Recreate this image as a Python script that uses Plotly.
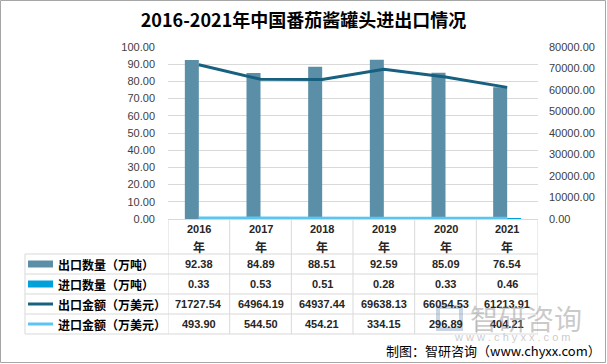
import plotly.graph_objects as go

years = ["2016", "2017", "2018", "2019", "2020", "2021"]
export_qty = [92.38, 84.89, 88.51, 92.59, 85.09, 76.54]
import_qty = [0.33, 0.53, 0.51, 0.28, 0.33, 0.46]
export_amt = [71727.54, 64964.19, 64937.44, 69638.13, 66054.53, 61213.91]
import_amt = [493.90, 544.50, 454.21, 334.15, 296.89, 404.21]

series_names = ["出口数量（万吨）", "进口数量（万吨）", "出口金额（万美元）", "进口金额（万美元）"]
series_values = [export_qty, import_qty, export_amt, import_amt]
series_colors = ["#5B8FA7", "#00A0DA", "#17607F", "#5BC5F2"]
series_kinds = ["bar", "bar", "line", "line"]

W, H = 607, 364
L, R, T, B = 168, 538, 47, 219
CJK = "Noto Sans CJK SC"
NUM = "Liberation Sans"


def ppy(py):
    return (B - py) / (B - T)


def ppx(px):
    return (px - L) / (R - L)


fig = go.Figure()
for name, vals, col, kind in zip(series_names, series_values, series_colors, series_kinds):
    if kind == "bar":
        fig.add_trace(go.Bar(x=years, y=vals, name=name, marker=dict(color=col, line=dict(width=0)),
                             yaxis="y", showlegend=False))
    else:
        fig.add_trace(go.Scatter(x=years, y=vals, name=name, mode="lines",
                                 line=dict(color=col, width=3), yaxis="y2", showlegend=False))

grid = "#D9D9D9"
shapes = []
annotations = []

# table geometry
row_tops = [254, 274, 294, 314]
row_h = 20
table_bottom = row_tops[-1] + row_h
# vertical lines on category boundaries
for i in range(len(years) + 1):
    shapes.append(dict(type="line", xref="x", yref="paper", x0=i - 0.5, x1=i - 0.5,
                       y0=ppy(B), y1=ppy(table_bottom), line=dict(color=grid, width=1)))
# left border of label column
shapes.append(dict(type="line", xref="paper", yref="paper", x0=ppx(25), x1=ppx(25),
                   y0=ppy(row_tops[0]), y1=ppy(table_bottom), line=dict(color=grid, width=1)))
# horizontal lines
for y in row_tops + [table_bottom]:
    shapes.append(dict(type="line", xref="paper", yref="paper", x0=ppx(25), x1=ppx(R),
                       y0=ppy(y), y1=ppy(y), line=dict(color=grid, width=1)))

# header year labels
for i, yr in enumerate(years):
    annotations.append(dict(x=i, y=ppy(229), xref="x", yref="paper", text="<b>%s</b>" % yr,
                            showarrow=False, font=dict(family=NUM, size=11, color="#262626"),
                            xanchor="center", yanchor="middle"))
    annotations.append(dict(x=i, y=ppy(246), xref="x", yref="paper", text="<b>年</b>",
                            showarrow=False, font=dict(family=CJK, size=12, color="#262626"),
                            xanchor="center", yanchor="middle"))

# rows
for r, (name, vals, col, kind) in enumerate(zip(series_names, series_values, series_colors, series_kinds)):
    cy = row_tops[r] + row_h / 2
    if kind == "bar":
        shapes.append(dict(type="rect", xref="paper", yref="paper", x0=ppx(28), x1=ppx(53),
                           y0=ppy(cy - 3.5), y1=ppy(cy + 3.5), fillcolor=col, line=dict(width=0)))
    else:
        shapes.append(dict(type="line", xref="paper", yref="paper", x0=ppx(28), x1=ppx(53),
                           y0=ppy(cy), y1=ppy(cy), line=dict(color=col, width=3)))
    annotations.append(dict(x=ppx(56), y=ppy(cy), xref="paper", yref="paper", text="<b>%s</b>" % name,
                            showarrow=False, font=dict(family=CJK, size=12, color="#000000"),
                            xanchor="left", yanchor="middle"))
    for i, v in enumerate(vals):
        annotations.append(dict(x=i, y=ppy(cy), xref="x", yref="paper", text="<b>%.2f</b>" % v,
                                showarrow=False, font=dict(family=NUM, size=11, color="#262626"),
                                xanchor="center", yanchor="middle"))

# outer frame
shapes.append(dict(type="rect", xref="paper", yref="paper", x0=ppx(0.5), x1=ppx(W - 1.5),
                   y0=ppy(H - 1.5), y1=ppy(0.5), line=dict(color="#A6A6A6", width=1),
                   fillcolor="rgba(0,0,0,0)"))

# watermark
shapes.append(dict(type="rect", xref="paper", yref="paper", x0=ppx(438), x1=ppx(461),
                   y0=ppy(329), y1=ppy(307), line=dict(color="rgba(120,150,185,0.4)", width=4),
                   fillcolor="rgba(0,0,0,0)"))
annotations.append(dict(x=ppx(468), y=ppy(318), xref="paper", yref="paper", text="智研咨询",
                        showarrow=False, font=dict(family=CJK, size=28, color="rgba(150,150,150,0.5)"),
                        xanchor="left", yanchor="middle"))
annotations.append(dict(x=ppx(512), y=ppy(337), xref="paper", yref="paper",
                        text="w w w . c h y x x . c o m", showarrow=False,
                        font=dict(family=NUM, size=11, color="rgba(150,150,150,0.5)"),
                        xanchor="center", yanchor="middle"))

# footer
annotations.append(dict(x=ppx(603), y=ppy(350), xref="paper", yref="paper",
                        text="制图：智研咨询（www.chyxx.com）", showarrow=False,
                        font=dict(family=CJK, size=13, color="#000000"),
                        xanchor="right", yanchor="middle"))

fig.update_layout(
    width=W, height=H, autosize=False,
    margin=dict(l=L, r=W - R, t=T, b=H - B, pad=0),
    paper_bgcolor="white", plot_bgcolor="white",
    title=dict(text="<b>2016-2021年中国番茄酱罐头进出口情况</b>", x=0.5, xanchor="center",
               y=1 - 21 / H, yanchor="middle", font=dict(family=CJK, size=18, color="#000000")),
    barmode="group", bargap=0.546, bargroupgap=0,
    xaxis=dict(type="category", range=[-0.5, 5.5], showticklabels=False, showgrid=False,
               showline=True, linecolor=grid, linewidth=1, ticks="", zeroline=False),
    yaxis=dict(range=[0, 100], dtick=10, tickformat=".2f", showgrid=True, gridcolor=grid,
               gridwidth=1, zeroline=False, showline=False, ticks="", ticklabelstandoff=12,
               tickfont=dict(family=NUM, size=11, color="#404040")),
    yaxis2=dict(range=[0, 80000], dtick=10000, tickformat=".2f", overlaying="y", side="right",
                showgrid=False, zeroline=False, showline=False, ticks="", ticklabelstandoff=10,
                tickfont=dict(family=NUM, size=11, color="#404040")),
    shapes=shapes, annotations=annotations,
)

fig.write_html("out.html", config={"displayModeBar": False},
               post_script="document.body.style.margin='0';document.body.style.overflow='hidden';")
